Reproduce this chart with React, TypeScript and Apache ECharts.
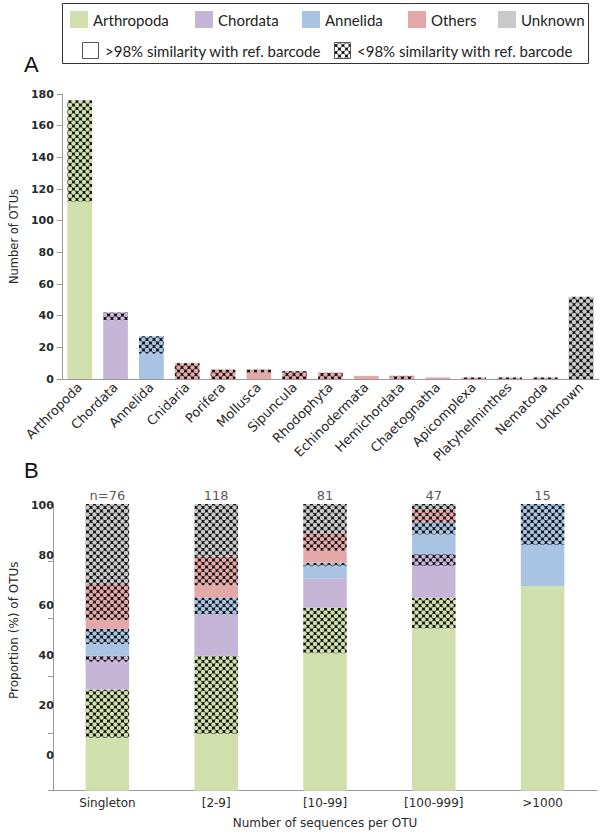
import React, { useEffect, useRef } from "react";
import * as echarts from "echarts";

// ---------- legend ----------
const groupNames = ["Arthropoda", "Chordata", "Annelida", "Others", "Unknown"];
const groupColors = ["#d0dfab", "#c5b5d7", "#a9c3e3", "#e5a8a9", "#c9c9c9"];
const similarityLabels = [">98% similarity with ref. barcode", "<98% similarity with ref. barcode"];
const panelLetters = ["A", "B"];

// ---------- panel A ----------
const phyla = [
  "Arthropoda", "Chordata", "Annelida", "Cnidaria", "Porifera", "Mollusca", "Sipuncula",
  "Rhodophyta", "Echinodermata", "Hemichordata", "Chaetognatha", "Apicomplexa",
  "Platyhelminthes", "Nematoda", "Unknown",
];
const phylumGroup = [0, 1, 2, 3, 3, 3, 3, 3, 3, 3, 3, 3, 3, 3, 4];
const solidA = [112, 37, 16, 0, 0, 4, 0, 0, 2, 0, 1, 0, 0, 0, 0];
const hatchedA = [64, 5, 11, 10, 6, 2, 5, 4, 0, 2, 0, 1, 1, 1, 52];
const yAxisNameA = "Number of OTUs";

// ---------- panel B ----------
const sizeClasses = ["Singleton", "[2-9]", "[10-99]", "[100-999]", ">1000"];
const sizeCounts = ["n=76", "118", "81", "47", "15"];
const arthSolidB = [18.5, 19.8, 47.9, 56.6, 71.4];
const arthHatchB = [16.8, 27.3, 15.9, 10.7, 0];
const chordSolidB = [9.7, 14.4, 10.3, 11.1, 0];
const chordHatchB = [2.1, 0, 0, 4.2, 0];
const annelSolidB = [4.1, 0, 4.2, 6.8, 14.3];
const annelHatchB = [5.2, 5.9, 1.2, 4.2, 14.3];
const othersSolidB = [3.1, 4.3, 4.2, 0, 0];
const othersHatchB = [12.6, 9.9, 6.1, 4.3, 0];
const unknownHatchB = [27.9, 18.4, 10.2, 2.1, 0];
const xAxisNameB = "Number of sequences per OTU";
const yAxisNameB = "Proportion (%) of OTUs";

function makeHatch(base: string) {
  const s = 7;
  const c = document.createElement("canvas");
  c.width = s;
  c.height = s;
  const ctx = c.getContext("2d")!;
  ctx.fillStyle = "#111";
  ctx.fillRect(0, 0, s, s);
  ctx.fillStyle = base;
  const pts = [[s / 2, s / 2], [0, 0], [s, 0], [0, s], [s, s]];
  for (const [x, y] of pts) {
    ctx.beginPath();
    ctx.arc(x, y, 2.25, 0, Math.PI * 2);
    ctx.fill();
  }
  return { image: c, repeat: "repeat", imageWidth: s, imageHeight: s } as any;
}

const FONT = "DejaVu Sans";
const AXIS_COLOR = "#9a9a9a";
const TEXT_COLOR = "#2a2a2a";

export default function App() {
  const ref = useRef<HTMLDivElement>(null);
  useEffect(() => {
    if (!ref.current) return;
    const chart = echarts.init(ref.current, undefined, { renderer: "svg" });
    const hatch = groupColors.map((c) => makeHatch(c));
    const hatchWhite = makeHatch("#ffffff");

    const seriesB = [
      { data: arthSolidB, g: 0, h: false },
      { data: arthHatchB, g: 0, h: true },
      { data: chordSolidB, g: 1, h: false },
      { data: chordHatchB, g: 1, h: true },
      { data: annelSolidB, g: 2, h: false },
      { data: annelHatchB, g: 2, h: true },
      { data: othersSolidB, g: 3, h: false },
      { data: othersHatchB, g: 3, h: true },
      { data: unknownHatchB, g: 4, h: true },
    ];
    const totalsB = sizeClasses.map((_, i) => seriesB.reduce((s, sr) => s + sr.data[i], 0));

    const legendX = [70, 195, 302, 408, 498];
    const graphic: any[] = [
      {
        type: "rect",
        shape: { x: 62.5, y: 3.5, width: 526, height: 60 },
        style: { fill: "#fff", stroke: "#333", lineWidth: 1 },
      },
    ];
    groupNames.forEach((name, i) => {
      graphic.push({
        type: "rect",
        shape: { x: legendX[i], y: 11, width: 18, height: 17 },
        style: { fill: groupColors[i] },
      });
      graphic.push({
        type: "text",
        x: legendX[i] + 23,
        y: 19.5,
        style: {
          text: name, fontSize: 15, fontFamily: "Lato", fill: "#222",
          verticalAlign: "middle", textVerticalAlign: "middle",
        },
      });
    });
    const simX = [82, 334];
    similarityLabels.forEach((lab, i) => {
      graphic.push({
        type: "rect",
        shape: { x: simX[i] + 0.5, y: 42.5, width: 16, height: 16 },
        style: { fill: i === 0 ? "#fff" : hatchWhite, stroke: "#555", lineWidth: 1 },
      });
      graphic.push({
        type: "text",
        x: simX[i] + 23,
        y: 51,
        style: {
          text: lab, fontSize: 15, fontFamily: "Lato", fill: "#222",
          verticalAlign: "middle", textVerticalAlign: "middle",
        },
      });
    });
    const letterY = [64, 470];
    panelLetters.forEach((l, i) => {
      graphic.push({
        type: "text",
        x: 24,
        y: letterY[i],
        style: {
          text: l, fontSize: 22, fontFamily: "Liberation Sans", fill: "#111",
          verticalAlign: "middle", textVerticalAlign: "middle",
        },
      });
    });

    const axisLabelBase = { fontFamily: FONT, color: TEXT_COLOR };

    chart.setOption({
      animation: false,
      backgroundColor: "#fff",
      graphic,
      grid: [
        { left: 53, top: 94, width: 546, height: 285 },
        { left: 53, top: 504, width: 544, height: 286.7 },
        { left: 53, top: 505.5, width: 544, height: 249.5 },
      ],
      xAxis: [
        {
          type: "category", gridIndex: 0, data: phyla,
          axisLine: { lineStyle: { color: AXIS_COLOR } },
          axisTick: { lineStyle: { color: AXIS_COLOR }, length: 4 },
          axisLabel: { ...axisLabelBase, fontSize: 13, rotate: 45, margin: 6, interval: 0 },
        },
        {
          type: "category", gridIndex: 1, data: sizeClasses,
          axisLine: { lineStyle: { color: AXIS_COLOR } },
          axisTick: { lineStyle: { color: AXIS_COLOR }, length: 4 },
          axisLabel: { ...axisLabelBase, fontSize: 12, margin: 6 },
          name: xAxisNameB, nameLocation: "middle", nameGap: 26,
          nameTextStyle: { fontFamily: FONT, fontSize: 12, color: TEXT_COLOR },
        },
        { type: "category", gridIndex: 2, data: sizeClasses, show: false },
      ],
      yAxis: [
        {
          type: "value", gridIndex: 0, min: 0, max: 180, interval: 20,
          splitLine: { show: false },
          axisLine: { show: true, lineStyle: { color: AXIS_COLOR } },
          axisTick: { show: true, length: 5, lineStyle: { color: AXIS_COLOR } },
          axisLabel: { ...axisLabelBase, fontSize: 11, fontWeight: "bold", margin: 8 },
          name: yAxisNameA, nameLocation: "middle", nameGap: 37,
          nameTextStyle: { fontFamily: FONT, fontSize: 11.5, color: TEXT_COLOR },
        },
        {
          type: "value", gridIndex: 1, min: 0, max: 100, interval: 20,
          splitLine: { show: false },
          axisLine: { show: true, lineStyle: { color: AXIS_COLOR } },
          axisTick: { show: true, length: 5, lineStyle: { color: AXIS_COLOR } },
          axisLabel: { show: false },
        },
        {
          type: "value", gridIndex: 2, min: 0, max: 100, interval: 20,
          splitLine: { show: false },
          axisLine: { show: false },
          axisTick: { show: false },
          axisLabel: { ...axisLabelBase, fontSize: 11, fontWeight: "bold", margin: 8 },
          name: yAxisNameB, nameLocation: "middle", nameGap: 38,
          nameTextStyle: { fontFamily: FONT, fontSize: 12, color: TEXT_COLOR },
        },
      ],
      series: [
        {
          type: "bar", xAxisIndex: 0, yAxisIndex: 0, stack: "a", barWidth: "69%",
          data: solidA.map((v, i) => ({ value: v, itemStyle: { color: groupColors[phylumGroup[i]] } })),
        },
        {
          type: "bar", xAxisIndex: 0, yAxisIndex: 0, stack: "a", barWidth: "69%",
          data: hatchedA.map((v, i) => ({ value: v, itemStyle: { color: hatch[phylumGroup[i]] } })),
        },
        ...seriesB.map((s) => ({
          type: "bar", xAxisIndex: 1, yAxisIndex: 1, stack: "b", barWidth: "40%",
          itemStyle: { color: s.h ? hatch[s.g] : groupColors[s.g] },
          data: s.data,
        })),
        {
          type: "scatter", xAxisIndex: 1, yAxisIndex: 1, symbolSize: 1,
          itemStyle: { color: "rgba(0,0,0,0)" },
          data: totalsB,
          label: {
            show: true, position: "top", distance: 2,
            fontFamily: FONT, fontSize: 13, color: TEXT_COLOR,
            formatter: (p: any) => sizeCounts[p.dataIndex],
          },
        },
      ],
    });
    return () => chart.dispose();
  }, []);
  return (
    <div
      ref={ref}
      style={{ position: "absolute", left: 0, top: 0, width: 600, height: 834 }}
    />
  );
}
